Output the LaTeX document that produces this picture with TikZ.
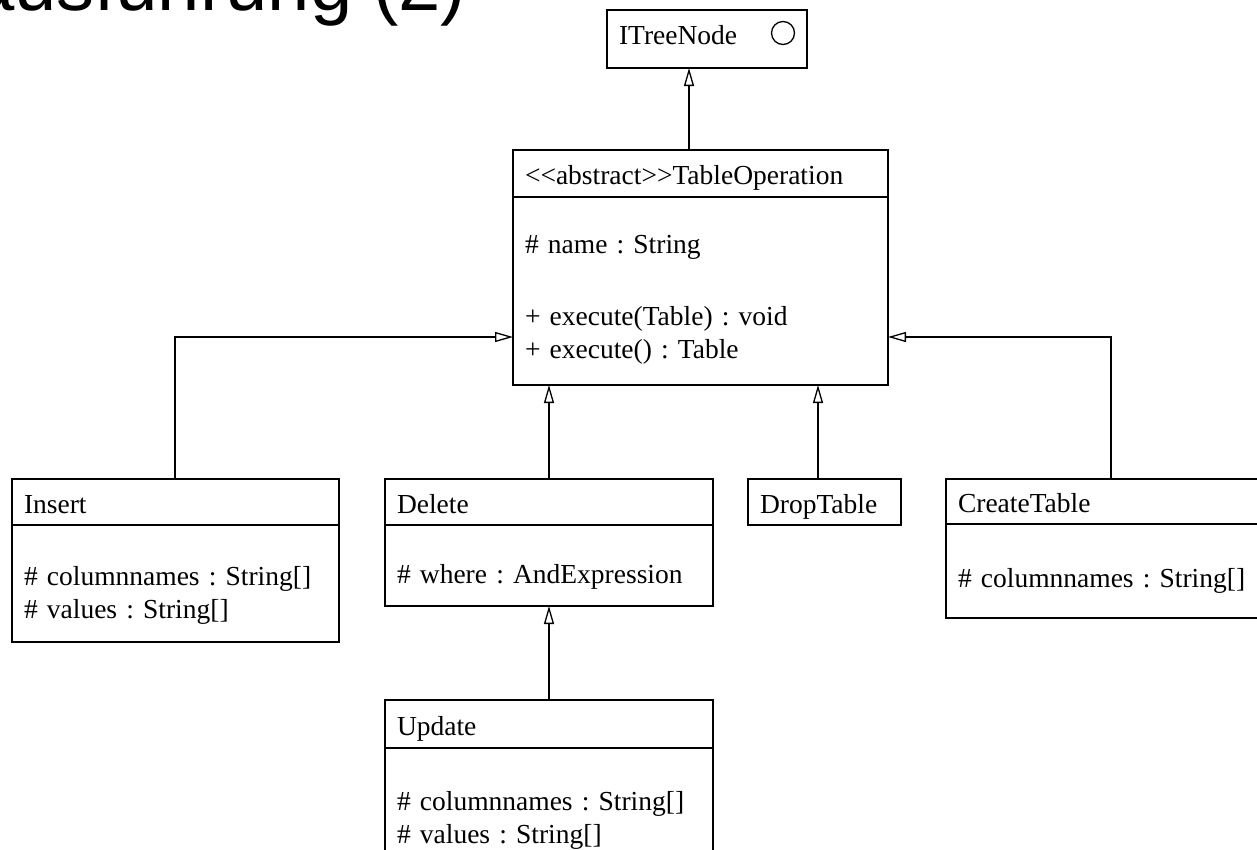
\documentclass[tikz,border=0pt]{standalone}
\usepackage{fontspec}
\newfontfamily\umlfont{Liberation Serif}
\newfontfamily\titlefont{Liberation Sans}
\usetikzlibrary{positioning,arrows.meta}
\frenchspacing

\tikzset{
    head/.style={draw, anchor=north west, inner xsep=12pt, inner ysep=0pt,
        outer sep=0pt, align=left, text height=22pt, text depth=0pt,
        font=\umlfont\fontsize{27.5}{33}\selectfont},
    body/.style={draw, anchor=north west, inner xsep=12pt, inner ysep=0pt,
        outer sep=0pt, align=left, font=\umlfont\fontsize{27.5}{33}\selectfont},
    iface/.style={draw, circle, inner sep=0pt, minimum size=23pt},
    inherit/.style={-{Triangle[open, length=18pt, width=10pt]}},
    title/.style={anchor=base east, inner sep=0pt,
        font=\titlefont\fontsize{76}{80}\selectfont},
}

\begin{document}
\begin{tikzpicture}[x=1pt, y=-1pt, line width=1.3pt]
    \useasboundingbox (0,0) rectangle (1257,849);
    \clip (0,0) rectangle (1257,849);

    % title of the slide, cut at the top
    \node[title] (title) at (467,10) {ausführung (2)};

    % interface
    \node[head, text width=176pt, minimum height=58pt, text height=10pt]
        (itn) at (607,10) {ITreeNode};
    \node[iface] (itn-c) at (783,33) {};

    % abstract base class
    \node[head, text width=351pt, minimum height=47pt] (op-h) at (513,150)
        {<<abstract>>TableOperation};
    \node[body, text width=351pt, text height=56pt, text depth=132pt]
        (op-b) at (op-h.south west)
        {\# name : String\\[39pt]+ execute(Table) : void\\+ execute() : Table};

    % subclasses
    \node[head, text width=303pt, minimum height=46pt] (ins-h) at (12,479) {Insert};
    \node[body, text width=303pt, text height=60pt, text depth=57pt]
        (ins-b) at (ins-h.south west)
        {\# columnnames : String[]\\\# values : String[]};

    \node[head, text width=304pt, minimum height=46pt] (del-h) at (385,479) {Delete};
    \node[body, text width=304pt, text height=58pt, text depth=23pt]
        (del-b) at (del-h.south west) {\# where : AndExpression};

    \node[head, text width=129pt, minimum height=46pt] (drop) at (748,479) {DropTable};

    \node[head, text width=296pt, minimum height=45pt] (crt-h) at (946,479) {CreateTable};
    \node[body, text width=296pt, text height=63pt, text depth=31pt]
        (crt-b) at (crt-h.south west) {\# columnnames : String[]};

    \node[head, text width=304pt, minimum height=48pt] (upd-h) at (385,700) {Update};
    \node[body, text width=304pt, text height=62pt, text depth=60pt]
        (upd-b) at (upd-h.south west)
        {\# columnnames : String[]\\\# values : String[]};

    % generalisations
    \draw[inherit] ([xshift=176pt]op-h.north west) -- ([xshift=176pt]op-h.north west |- itn.south);
    \draw[inherit] ([xshift=163pt]ins-h.north west) |- ([yshift=-46pt]op-b.west);
    \draw[inherit] ([xshift=164pt]del-h.north west) -- ([xshift=164pt]del-h.north west |- op-b.south);
    \draw[inherit] ([xshift=70pt]drop.north west) -- ([xshift=70pt]drop.north west |- op-b.south);
    \draw[inherit] ([xshift=165pt]crt-h.north west) |- ([yshift=-46pt]op-b.east);
    \draw[inherit] ([xshift=164pt]upd-h.north west) -- ([xshift=164pt]upd-h.north west |- del-b.south);
\end{tikzpicture}
\end{document}
